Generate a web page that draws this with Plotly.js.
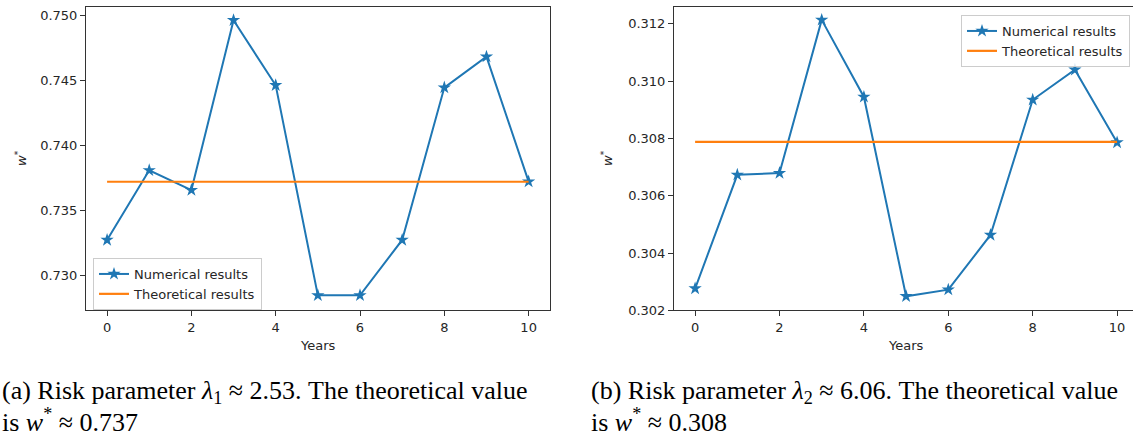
<!DOCTYPE html>
<html>
<head>
<meta charset="utf-8">
<script src="https://cdn.plot.ly/plotly-3.0.1.min.js"></script>
<style>
  html, body { margin: 0; padding: 0; background: #fff; }
  #chart { width: 1133px; height: 436px; }
</style>
</head>
<body>
<div id="chart"></div>
<script>
// Years of the back-test window
const years = [0, 1, 2, 3, 4, 5, 6, 7, 8, 9, 10];

// Optimal weight w* found numerically, risk parameter λ1 ≈ 2.53
const numericalA = [0.73272, 0.73808, 0.73656, 0.74962, 0.74462, 0.72846, 0.72846, 0.73272, 0.74444, 0.74682, 0.73721];
// Closed-form value for λ1
const theoreticalA = 0.7372;

// Optimal weight w* found numerically, risk parameter λ2 ≈ 6.06
const numericalB = [0.30276, 0.30673, 0.30679, 0.31214, 0.30945, 0.30249, 0.30272, 0.30463, 0.30935, 0.31040, 0.30786];
// Closed-form value for λ2
const theoreticalB = 0.30788;

const xTicks = [0, 2, 4, 6, 8, 10];
const yTicksA = [0.730, 0.735, 0.740, 0.745, 0.750];
const yTicksB = [0.302, 0.304, 0.306, 0.308, 0.310, 0.312];

const seriesNames = ['Numerical results', 'Theoretical results'];
const captionA = ['(a) Risk parameter <i>λ</i><sub>1</sub> ≈ 2.53. The theoretical value', 'is <i>w</i><sup>*</sup> ≈ 0.737'];
const captionB = ['(b) Risk parameter <i>λ</i><sub>2</sub> ≈ 6.06. The theoretical value', 'is <i>w</i><sup>*</sup> ≈ 0.308'];

const W = 1133, H = 436;
const BLUE = '#1f77b4', ORANGE = '#ff7f0e', INK = '#262626', SPINE = '#333333';
const SANS = 'DejaVu Sans', SERIF = 'Liberation Serif';

function numTrace(y, xa, ya, legend) {
  return {
    x: years, y: y, xaxis: xa, yaxis: ya, legend: legend,
    type: 'scatter', mode: 'lines+markers', name: seriesNames[0],
    line: { color: BLUE, width: 2 },
    marker: { symbol: 'star', size: 10, color: BLUE }
  };
}
function theoTrace(v, xa, ya, legend) {
  return {
    x: [years[0], years[years.length - 1]], y: [v, v], xaxis: xa, yaxis: ya, legend: legend,
    type: 'scatter', mode: 'lines', name: seriesNames[1],
    line: { color: ORANGE, width: 2.2 }
  };
}

const traces = [
  numTrace(numericalA, 'x', 'y', 'legend'),
  theoTrace(theoreticalA, 'x', 'y', 'legend'),
  numTrace(numericalB, 'x2', 'y2', 'legend2'),
  theoTrace(theoreticalB, 'x2', 'y2', 'legend2')
];

const tickFont = { family: SANS, size: 13, color: INK };
function xAxis(domain, range, anchor) {
  return {
    domain: domain, range: range, anchor: anchor,
    tickvals: xTicks, ticks: 'outside', ticklen: 5, tickwidth: 1, tickcolor: SPINE,
    showline: true, linecolor: SPINE, linewidth: 1, mirror: true,
    showgrid: false, zeroline: false, tickfont: tickFont
  };
}
function yAxis(domain, range, anchor, ticks, mirror) {
  return {
    domain: domain, range: range, anchor: anchor,
    tickvals: ticks, tickformat: '.3f', ticks: 'outside', ticklen: 5, tickwidth: 1, tickcolor: SPINE,
    showline: true, linecolor: SPINE, linewidth: 1, mirror: mirror,
    showgrid: false, zeroline: false, tickfont: tickFont
  };
}

const yDom = [1 - 310.3 / H, 1 - 7 / H];
const legendStyle = {
  bgcolor: 'rgba(255,255,255,0.85)', bordercolor: '#cccccc', borderwidth: 1,
  font: { family: SANS, size: 13, color: INK }, tracegroupgap: 0
};

const annotations = [];
function label(text, x, y, opts) {
  annotations.push(Object.assign({
    text: text, x: x / W, y: 1 - y / H, xref: 'paper', yref: 'paper',
    xanchor: 'center', yanchor: 'middle',
    showarrow: false, font: { family: SANS, size: 13, color: INK }
  }, opts || {}));
}
// axis titles
label('Years', 318, 345);
label('Years', 906, 345);
label('<i>w</i><sup>*</sup>', 21, 158, { textangle: -90 });
label('<i>w</i><sup>*</sup>', 607, 158, { textangle: -90 });
// captions
const capFont = { family: SERIF, size: 26, color: '#000' };
label(captionA[0], 0, 392, { xanchor: 'left', font: capFont });
label(captionA[1], 0, 420, { xanchor: 'left', font: capFont });
label(captionB[0], 589, 392, { xanchor: 'left', font: capFont });
label(captionB[1], 589, 420, { xanchor: 'left', font: capFont });

const layout = {
  width: W, height: H,
  margin: { l: 0, r: 0, t: 0, b: 0 },
  paper_bgcolor: '#fff', plot_bgcolor: '#fff',
  xaxis: xAxis([86 / W, 549.7 / W], [-0.5, 10.5], 'y'),
  yaxis: yAxis(yDom, [0.72731, 0.75064], 'x', yTicksA, true),
  xaxis2: xAxis([674 / W, 1], [-0.5, -0.5 + (W - 674) / 42.2], 'y2'),
  yaxis2: yAxis(yDom, [0.30200, 0.31259], 'x2', yTicksB, false),
  legend: Object.assign({ x: 93 / W, y: 1 - 258 / H, xanchor: 'left', yanchor: 'top' }, legendStyle),
  legend2: Object.assign({ x: 1130 / W, y: 1 - 15 / H, xanchor: 'right', yanchor: 'top' }, legendStyle),
  annotations: annotations,
  showlegend: true
};

Plotly.newPlot('chart', traces, layout, { staticPlot: true, displayModeBar: false });
</script>
</body>
</html>
